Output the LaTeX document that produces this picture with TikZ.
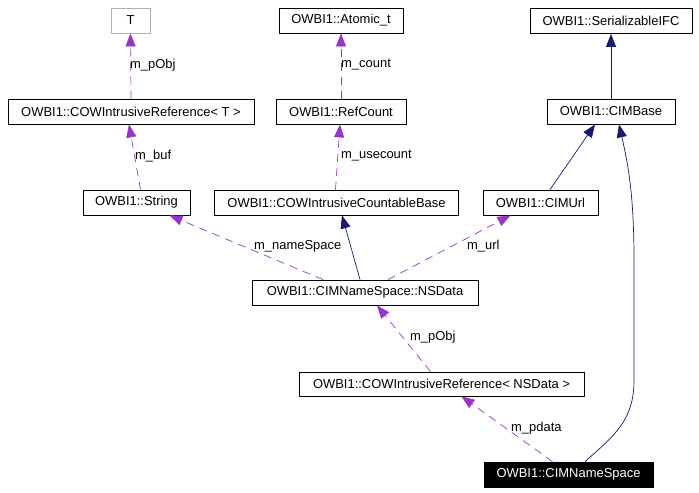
\documentclass[tikz,border=0pt]{standalone}
\usepackage{fontspec}
\setmainfont{Liberation Sans}
\usetikzlibrary{arrows.meta}
\definecolor{pur}{HTML}{9A32CD}
\definecolor{nav}{HTML}{191970}
\begin{document}
\begin{tikzpicture}[x=1bp,y=-1bp,
  box/.style={draw=black,line width=0.8bp,minimum height=25bp,inner sep=0pt,font=\fontsize{13}{15}\selectfont},
  lbl/.style={anchor=west,inner sep=0pt,font=\fontsize{13}{15}\selectfont},
  tip/.style={-{Triangle[length=13bp,width=10bp]}},
  purl/.style={tip,draw=pur,dash pattern=on 8bp off 6bp,line width=0.7bp},
  navl/.style={tip,draw=nav,line width=0.7bp}]
\useasboundingbox (0,0) rectangle (699,493);
\node[box,draw=gray!60,minimum width=39bp] (T) at (130.5,20.5) {T};
\node[box,minimum width=124bp] (atom) at (341,20.5) {OWBI1::Atomic\_t};
\node[box,minimum width=162bp] (ser) at (611,21) {OWBI1::SerializableIFC};
\node[box,minimum width=246bp] (crT) at (131,111.5) {OWBI1::COWIntrusiveReference< T >};
\node[box,minimum width=130bp] (rc) at (341,111.5) {OWBI1::RefCount};
\node[box,minimum width=128bp] (base) at (611,111.5) {OWBI1::CIMBase};
\node[box,minimum width=107bp] (str) at (136.5,202.5) {OWBI1::String};
\node[box,minimum width=244bp] (cb) at (336.5,202.5) {OWBI1::COWIntrusiveCountableBase};
\node[box,minimum width=115bp] (url) at (540.5,202.5) {OWBI1::CIMUrl};
\node[box,minimum width=226bp] (ns) at (365,292.5) {OWBI1::CIMNameSpace::NSData};
\node[box,minimum width=285bp,minimum height=24bp] (crN) at (441.5,384) {OWBI1::COWIntrusiveReference< NSData >};
\node[box,fill=black,text=white,minimum width=169bp] (cns) at (568.5,474.5) {OWBI1::CIMNameSpace};
% connectors
\draw[purl] (crT.north) -- (T.south);
\draw[purl] (rc.north) -- (atom.south);
\draw[navl] (base.north) -- (ser.south);
\draw[purl] ([xshift=4bp]str.north) -- ([xshift=-2bp]crT.south);
\draw[purl] ([xshift=-1bp]cb.north) -- ([xshift=-1bp]rc.south);
\draw[navl] ([xshift=9.5bp]url.north) -- ([xshift=-16bp]base.south);
\draw[navl] ([xshift=16.5bp]cns.north) .. controls (615,435) and (634,420) .. (634,380) -- (634,260) .. controls (634,190) and (627,160) .. ([xshift=8bp]base.south);
\draw[purl] ([xshift=-42bp]ns.north) -- ([xshift=33bp]str.south);
\draw[navl] ([xshift=-5bp]ns.north) -- ([xshift=5.5bp]cb.south);
\draw[purl] ([xshift=23bp]ns.north) -- ([xshift=-30bp]url.north |- url.south);
\draw[purl] ([xshift=-11bp]crN.north) -- ([xshift=12bp]ns.south);
\draw[purl] ([xshift=-16bp]cns.north) -- ([xshift=20bp]crN.south);
% labels
\node[lbl] (l1) at (130,65) {m\_pObj};
\node[lbl] (l2) at (341,65) {m\_count};
\node[lbl] (l3) at (135,156) {m\_buf};
\node[lbl] (l4) at (341,156) {m\_usecount};
\node[lbl] (l5) at (254,246) {m\_nameSpace};
\node[lbl] (l6) at (467,246) {m\_url};
\node[lbl] (l7) at (410,337) {m\_pObj};
\node[lbl] (l8) at (511,428) {m\_pdata};
\end{tikzpicture}
\end{document}
